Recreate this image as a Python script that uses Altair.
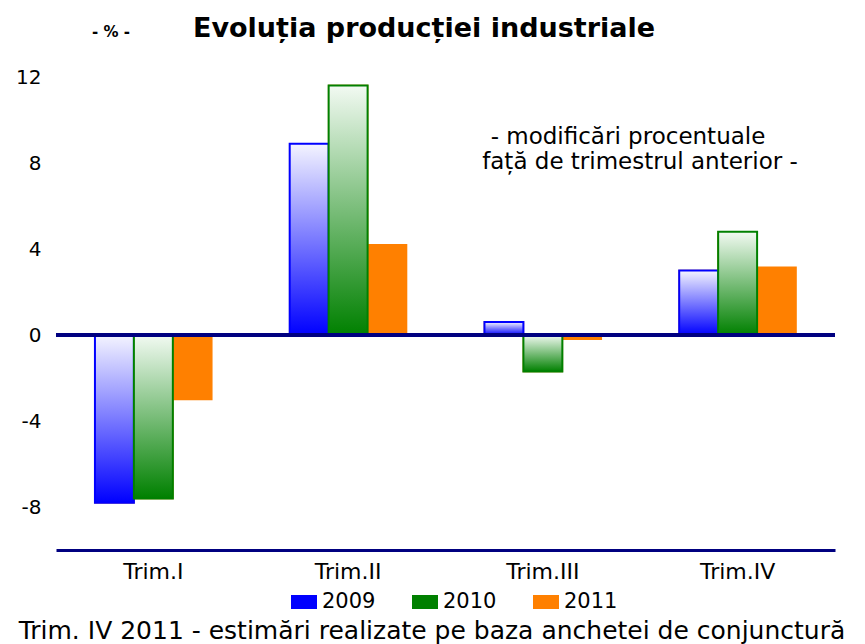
import altair as alt
import pandas as pd

quarters = ["Trim.I", "Trim.II", "Trim.III", "Trim.IV"]
years = ["2009", "2010", "2011"]
v2009 = [-7.8, 8.9, 0.6, 3.0]
v2010 = [-7.6, 11.6, -1.7, 4.8]
v2011 = [-3.0, 4.2, -0.2, 3.15]

rows = []
for y, vals in zip(years, [v2009, v2010, v2011]):
    for q, v in zip(quarters, vals):
        rows.append({"quarter": q, "year": y, "value": v})
df = pd.DataFrame(rows)

FONT = "DejaVu Sans"
NAVY = "#000080"
BLUE = "#0000FF"
GREEN = "#008000"
ORANGE = "#FF8000"

x_enc = alt.X("quarter:N", sort=quarters, title=None,
              scale=alt.Scale(paddingInner=0.4, paddingOuter=0.2),
              axis=alt.Axis(labelAngle=0, labelFontSize=22, labelFont=FONT,
                            labelColor="black", labelPadding=11,
                            domainColor=NAVY, domainWidth=3, ticks=False,
                            grid=False))
xo_enc = alt.XOffset("year:N", scale=alt.Scale(domain=years))
y_enc = alt.Y("value:Q", title=None,
              scale=alt.Scale(domain=[-10, 12], nice=False, zero=False),
              axis=alt.Axis(values=[-8, -4, 0, 4, 8, 12], labelFontSize=20,
                            labelFont=FONT, labelColor="black",
                            labelExpr="datum.value + ''",
                            labelPadding=15, domain=False, ticks=False,
                            grid=False))

base = alt.Chart(df).mark_bar(strokeWidth=1.5, stroke=ORANGE).encode(
    x=x_enc, xOffset=xo_enc, y=y_enc,
    color=alt.Color("year:N", scale=alt.Scale(domain=years, range=[BLUE, GREEN, ORANGE]),
                    legend=alt.Legend(orient="none", legendX=235, legendY=512,
                                      direction="horizontal", title=None,
                                      symbolType="M-1,-0.54L1,-0.54L1,0.54L-1,0.54Z",
                                      symbolSize=676,
                                      symbolStrokeWidth=0,
                                      labelFontSize=21, labelFont=FONT,
                                      labelColor="black", labelOffset=5,
                                      columnPadding=36)),
)

def grad(light, dark):
    return {"gradient": "linear", "x1": 0, "y1": 0, "x2": 0, "y2": 1,
            "stops": [{"offset": 0, "color": light}, {"offset": 1, "color": dark}]}

g2009 = alt.Chart(df).transform_filter(alt.datum.year == "2009").mark_bar(
    fill=grad("#F4F4FF", BLUE), stroke=BLUE, strokeWidth=2).encode(
    x=x_enc, xOffset=xo_enc, y=y_enc)
g2010 = alt.Chart(df).transform_filter(alt.datum.year == "2010").mark_bar(
    fill=grad("#F2FAF2", GREEN), stroke=GREEN, strokeWidth=2).encode(
    x=x_enc, xOffset=xo_enc, y=y_enc)

zero = alt.Chart(df).mark_rule(color=NAVY, strokeWidth=3).encode(y=alt.datum(0))

def txt(s, x, y, size, bold=False, align="center"):
    return alt.Chart(pd.DataFrame({"t": [s]})).mark_text(
        font=FONT, fontSize=size, fontWeight="bold" if bold else "normal",
        align=align, baseline="alphabetic", color="black").encode(
        text="t:N", x=alt.value(x), y=alt.value(y))

title = txt("Evoluția producției industriale", 368, -40, 27, bold=True)
pct = txt("- % -", 55, -40, 15, bold=True)
ann1 = txt("- modificări procentuale", 572, 67, 23)
ann2 = txt("față de trimestrul anterior -", 584, 92, 23)
foot = txt("Trim. IV 2011 - estimări realizate pe baza anchetei de conjunctură", 376, 562, 25)

chart = alt.layer(base, g2009, g2010, zero, title, pct, ann1, ann2, foot).properties(
    width=779, height=473,
    autosize=alt.AutoSizeParams(type="none"),
    padding={"left": 48, "top": 69, "right": 22, "bottom": 94},
).configure_view(stroke=None)

chart.save("out.html", embed_options={"renderer": "svg", "actions": False})
